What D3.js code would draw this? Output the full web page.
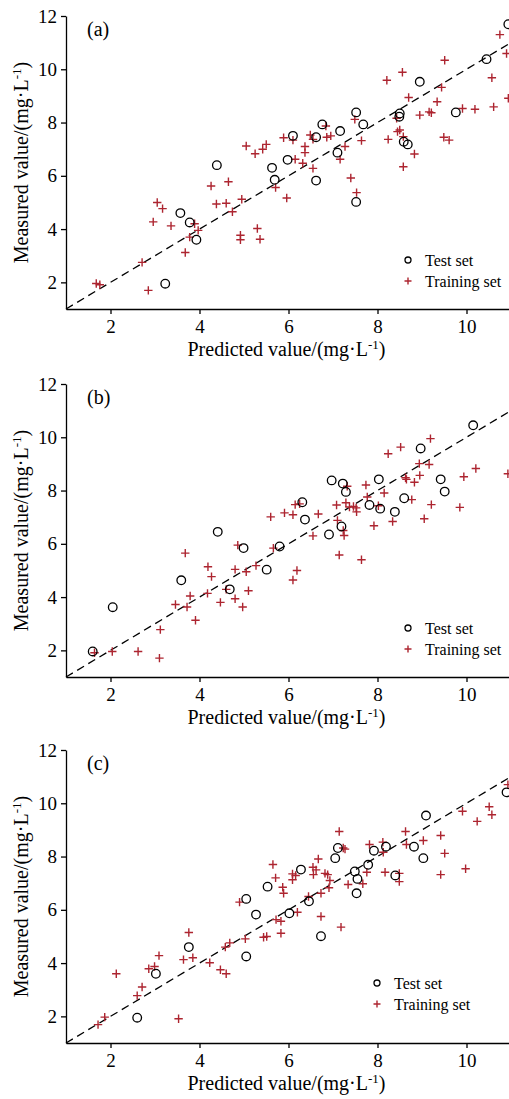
<!DOCTYPE html>
<meta charset="utf-8">
<style>
body { margin: 0; background: #fff; }
svg { font-family: "Liberation Serif", "Times New Roman", serif; }
.axis path, .axis line { stroke: #000; stroke-width: 1.3px; }
.axis text { font-size: 19px; fill: #000; font-family: "Liberation Serif", serif; }
</style>
<body>
<script src="https://d3js.org/d3.v7.min.js"></script>
<script>

// tick values
const xTicks = [2, 4, 6, 8, 10];
const yTicks = [2, 4, 6, 8, 10, 12];

// (a) test / training  [predicted, measured]
const testA = [[3.23,1.95],[3.57,4.6],[3.78,4.25],[3.93,3.6],[4.39,6.4],[5.63,6.3],[5.69,5.85],[5.98,6.6],[6.1,7.5],[6.62,7.45],[6.76,7.93],[6.62,5.82],[7.16,7.68],[7.1,6.87],[7.52,8.38],[7.68,7.93],[7.52,5.02],[8.5,8.34],[8.49,8.22],[8.59,7.28],[8.68,7.18],[8.95,9.53],[9.76,8.38],[10.45,10.38],[10.94,11.69]];
const trainA = [[1.68,1.96],[1.76,1.91],[2.71,2.75],[2.85,1.7],[2.96,4.27],[3.05,5.0],[3.17,4.77],[3.36,4.12],[3.68,3.12],[3.78,3.7],[3.89,4.2],[3.97,3.95],[4.26,5.62],[4.38,4.94],[4.6,4.97],[4.65,5.78],[4.74,4.65],[4.95,5.12],[4.92,3.77],[4.92,3.6],[5.05,7.12],[5.25,6.83],[5.42,7.0],[5.5,7.18],[5.3,4.02],[5.36,3.62],[5.89,7.43],[5.71,5.56],[5.96,5.17],[6.1,7.34],[6.15,6.62],[6.32,6.47],[6.37,7.1],[6.37,6.87],[6.49,7.53],[6.55,6.28],[6.55,7.37],[6.84,7.87],[6.86,7.45],[6.95,7.5],[7.27,7.1],[7.16,6.62],[7.4,5.92],[7.53,5.37],[7.49,8.12],[7.64,7.32],[8.21,9.59],[8.56,9.89],[8.24,7.37],[8.43,8.16],[8.45,7.66],[8.5,7.72],[8.58,7.47],[8.58,6.34],[8.7,8.94],[8.83,6.82],[8.95,8.28],[9.16,8.4],[9.21,8.37],[9.34,8.78],[9.44,9.32],[9.51,10.34],[9.49,7.45],[9.61,7.34],[9.91,8.53],[10.19,8.5],[10.61,8.59],[10.57,9.68],[10.75,11.3],[10.9,10.59],[10.94,8.91]];

// (b)
const testB = [[1.6,1.96],[2.05,3.62],[3.59,4.63],[4.41,6.45],[4.68,4.29],[4.99,5.84],[5.51,5.03],[5.8,5.9],[6.31,7.56],[6.37,6.91],[6.91,6.35],[6.97,8.38],[7.22,8.26],[7.29,7.95],[7.19,6.65],[7.82,7.46],[8.03,8.42],[8.06,7.32],[8.39,7.2],[8.6,7.71],[8.97,9.58],[9.42,8.42],[9.51,7.96],[10.15,10.45]];
const trainB = [[1.64,1.91],[2.04,1.96],[2.62,1.96],[3.1,1.71],[3.12,2.78],[3.46,3.72],[3.68,5.65],[3.72,3.63],[3.79,4.04],[3.91,3.13],[4.19,5.14],[4.18,4.14],[4.27,4.77],[4.47,3.8],[4.6,4.29],[4.8,5.04],[4.86,5.95],[4.8,3.94],[4.97,3.63],[5.05,4.95],[5.1,4.24],[5.27,5.18],[5.6,7.01],[5.66,5.84],[5.91,7.16],[6.1,4.64],[6.19,5.0],[6.1,7.09],[6.15,7.47],[6.25,7.5],[6.55,6.3],[6.67,7.12],[7.08,7.46],[7.1,6.88],[7.14,5.58],[7.23,6.5],[7.25,6.31],[7.29,7.54],[7.32,8.16],[7.37,7.38],[7.46,7.4],[7.52,7.35],[7.53,7.2],[7.64,5.4],[7.74,8.21],[7.77,7.76],[7.92,6.68],[8.02,7.43],[8.15,7.91],[8.24,9.38],[8.34,6.84],[8.52,9.63],[8.63,8.48],[8.65,8.42],[8.77,7.66],[8.83,8.31],[8.94,9.01],[8.95,8.57],[9.05,6.94],[9.16,8.98],[9.19,9.95],[9.21,7.47],[9.85,7.37],[9.94,8.52],[10.21,8.83],[10.93,8.63]];

// (c)
const testC = [[2.6,1.95],[3.02,3.6],[3.76,4.6],[5.05,4.25],[5.05,6.41],[5.27,5.82],[5.53,6.87],[6.02,5.87],[6.28,7.51],[6.46,6.32],[6.73,5.01],[7.05,7.94],[7.11,8.32],[7.49,7.44],[7.55,7.16],[7.53,6.62],[7.79,7.69],[7.92,8.22],[8.19,8.37],[8.4,7.29],[8.82,8.37],[9.03,7.94],[9.09,9.54],[10.9,10.41]];
const trainC = [[1.72,1.69],[1.87,1.97],[2.13,3.6],[2.6,2.78],[2.71,3.1],[2.86,3.79],[2.99,3.87],[3.09,4.28],[3.53,1.91],[3.64,4.13],[3.76,5.15],[3.85,4.2],[4.23,4.01],[4.47,3.75],[4.58,4.6],[4.6,3.6],[4.68,4.76],[4.9,6.29],[5.03,4.91],[5.44,4.97],[5.51,5.0],[5.65,7.7],[5.71,7.2],[5.72,5.63],[5.83,5.57],[5.83,5.12],[5.87,6.85],[5.89,6.62],[6.09,7.35],[6.09,7.13],[6.16,7.29],[6.2,5.91],[6.45,6.5],[6.55,7.6],[6.56,7.32],[6.62,7.5],[6.67,7.91],[6.73,6.62],[6.73,5.75],[6.82,7.37],[6.88,7.32],[6.93,7.1],[6.91,6.83],[7.18,5.35],[7.14,8.94],[7.23,8.32],[7.27,8.28],[7.34,6.95],[7.67,6.98],[7.76,7.41],[7.82,8.45],[8.12,8.54],[8.13,8.16],[8.17,7.41],[8.49,7.37],[8.49,7.06],[8.63,8.94],[8.65,8.45],[9.03,8.6],[9.42,8.79],[9.51,8.12],[9.42,7.32],[9.91,9.7],[9.98,7.54],[10.24,9.32],[10.51,9.87],[10.57,9.57],[10.93,10.7]];

const red = "#ad2530";
const left = 66, plotW = 445, plotH = 293;

// panel layout (top of plot area, legend position)
const panels = [
  {label: "(a)", test: testA, train: trainA, top: 16,  legX: 408, legY: 244},
  {label: "(b)", test: testB, train: trainB, top: 384, legX: 408, legY: 244},
  {label: "(c)", test: testC, train: trainC, top: 750, legX: 377, legY: 233}
];

const svg = d3.select("body").append("svg")
    .attr("width", 509)
    .attr("height", 1099);

const x = d3.scaleLinear().domain([1, 11]).range([0, plotW]);
const y = d3.scaleLinear().domain([1, 12]).range([plotH, 0]);

function plus(g, cx, cy, s) {
  g.append("path")
    .attr("d", "M" + (cx - s) + "," + cy + "h" + (2 * s) + "M" + cx + "," + (cy - s) + "v" + (2 * s))
    .attr("stroke", red)
    .attr("stroke-width", 1.4)
    .attr("fill", "none");
}

function unitLabel(t, pre) {
  t.append("tspan").text(pre + "/(mg·L");
  t.append("tspan").attr("dy", -7).style("font-size", "13px").text("-1");
  t.append("tspan").attr("dy", 7).text(")");
}

panels.forEach(function(p) {
  var g = svg.append("g").attr("transform", "translate(" + left + "," + p.top + ")");

  // 1:1 line
  g.append("line")
    .attr("x1", x(1)).attr("y1", y(1))
    .attr("x2", x(11)).attr("y2", y(11))
    .attr("stroke", "#000")
    .attr("stroke-width", 1.3)
    .attr("stroke-dasharray", "8,5");

  // training set
  var tr = g.append("g");
  p.train.forEach(function(d) { plus(tr, x(d[0]), y(d[1]), 4.2); });

  // test set
  g.append("g").selectAll("circle")
    .data(p.test)
    .enter().append("circle")
      .attr("cx", function(d) { return x(d[0]); })
      .attr("cy", function(d) { return y(d[1]); })
      .attr("r", 4.3)
      .attr("fill", "none")
      .attr("stroke", "#000")
      .attr("stroke-width", 1.3);

  // axes
  g.append("g").attr("class", "axis")
    .attr("transform", "translate(0," + plotH + ")")
    .call(d3.axisBottom(x).tickValues(xTicks).tickSize(5).tickSizeOuter(0).tickPadding(6));
  g.append("g").attr("class", "axis")
    .call(d3.axisLeft(y).tickValues(yTicks).tickSize(5).tickSizeOuter(0).tickPadding(4));

  // panel label
  g.append("text")
    .attr("x", 21).attr("y", 20)
    .style("font-size", "20px")
    .text(p.label);

  // axis titles
  var xt = g.append("text")
    .attr("x", plotW / 2 - 2).attr("y", plotH + 47)
    .attr("text-anchor", "middle")
    .style("font-size", "20px");
  unitLabel(xt, "Predicted value");

  var yt = g.append("text")
    .attr("transform", "translate(" + (28 - left) + "," + (plotH / 2) + ") rotate(-90)")
    .attr("text-anchor", "middle")
    .style("font-size", "20px");
  unitLabel(yt, "Measured value");

  // legend
  var lg = g.append("g").attr("transform", "translate(" + (p.legX - left) + "," + p.legY + ")");
  lg.append("circle").attr("cx", 0).attr("cy", 0).attr("r", 3)
    .attr("fill", "none").attr("stroke", "#000").attr("stroke-width", 1.3);
  lg.append("text").attr("x", 17).attr("y", 5.5).style("font-size", "16px").text("Test set");
  plus(lg, 0, 21, 3.5);
  lg.append("text").attr("x", 17).attr("y", 26.5).style("font-size", "16px").text("Training set");
});

</script>
</body>
